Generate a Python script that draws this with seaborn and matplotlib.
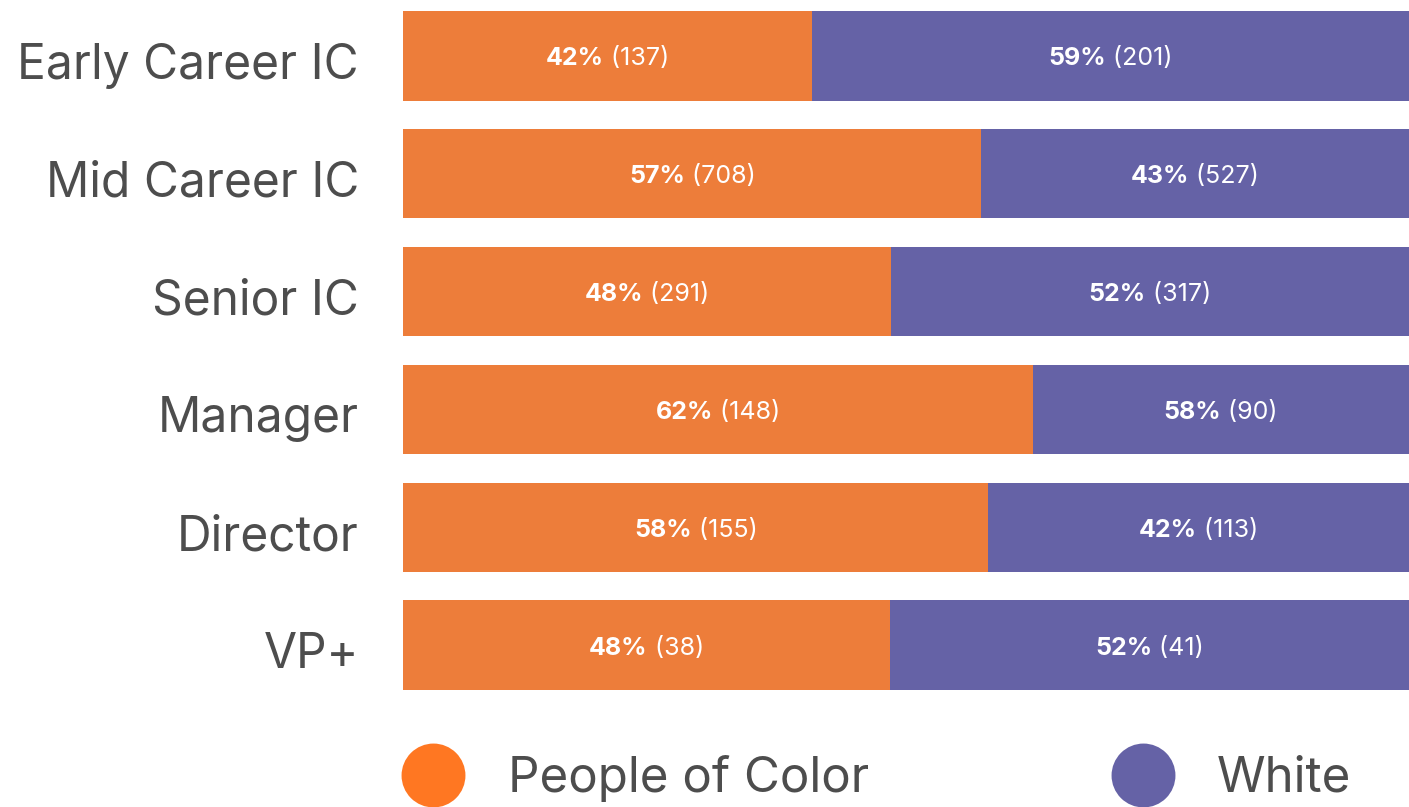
import matplotlib
matplotlib.use("Agg")
import matplotlib.pyplot as plt
from matplotlib.lines import Line2D
from matplotlib.transforms import ScaledTranslation
import seaborn as sns
import pandas as pd
import numpy as np

categories = ["Early Career IC", "Mid Career IC", "Senior IC", "Manager", "Director", "VP+"]
poc_share_pct = [40.7, 57.5, 48.5, 62.6, 58.2, 48.4]   # bar length of the orange segment
poc_counts = [137, 708, 291, 148, 155, 38]
white_counts = [201, 527, 317, 90, 113, 41]
poc_pct_labels = ["42%", "57%", "48%", "62%", "58%", "48%"]
white_pct_labels = ["59%", "43%", "52%", "58%", "42%", "52%"]
series_names = ["People of Color", "White"]

ORANGE = "#ED7D3A"
PURPLE = "#6562A6"
LEG_ORANGE = "#FF7722"
GREY = "#4D4D4D"
FONT = "Inter"

sns.set_theme(style="white")
plt.rcParams["font.family"] = [FONT, "DejaVu Sans"]

share = np.array(poc_share_pct) / 100.0
df = pd.DataFrame({"cat": categories, "total": np.ones(len(categories)), "poc": share})

fig = plt.figure(figsize=(14.09, 8.07), dpi=100, facecolor="white")
W, H = 1409, 807
ax = fig.add_axes([403 / W, 1 - 690 / H, 1 - 403 / W, (690 - 11) / H])

sns.barplot(data=df, y="cat", x="total", color=PURPLE, orient="h", width=0.76,
            saturation=1, ax=ax, edgecolor="none")
sns.barplot(data=df, y="cat", x="poc", color=ORANGE, orient="h", width=0.76,
            saturation=1, ax=ax, edgecolor="none")

ax.set_xlim(0, 1)
ax.set_ylim(5.38, -0.38)
ax.set_xlabel("")
ax.set_ylabel("")
ax.set_xticks([])
ax.set_yticks(range(len(categories)))
ax.set_yticklabels([])
ax.tick_params(axis="y", length=0)
for s in ax.spines.values():
    s.set_visible(False)
ax.set_facecolor("white")

# category labels (right-aligned, slightly below bar centre as in reference)
lab_tr = ax.get_yaxis_transform() + ScaledTranslation(-44 / 100, -10 / 100, fig.dpi_scale_trans)
for i, c in enumerate(categories):
    ax.text(0, i, c, transform=lab_tr, ha="right", va="center", fontsize=34.5,
            color=GREY, clip_on=False)

fig.canvas.draw()
renderer = fig.canvas.get_renderer()
LSIZE = 18


def two_part(xc, yc, bold, normal):
    t1 = ax.text(0, 0, bold, fontsize=LSIZE, fontweight="bold", color="white")
    t2 = ax.text(0, 0, " " + normal, fontsize=LSIZE, color="white")
    w1 = t1.get_window_extent(renderer).width
    w2 = t2.get_window_extent(renderer).width
    total = w1 + w2
    px, py = ax.transData.transform((xc, yc))
    py -= 3
    x0 = px - total / 2
    inv = ax.transData.inverted()
    a = inv.transform((x0, py))
    b = inv.transform((x0 + w1, py))
    t1.set_position(tuple(a))
    t2.set_position(tuple(b))
    for t in (t1, t2):
        t.set_ha("left")
        t.set_va("center")


for i in range(len(categories)):
    two_part(share[i] / 2, i, poc_pct_labels[i], f"({poc_counts[i]})")
    two_part((1 + share[i]) / 2, i, white_pct_labels[i], f"({white_counts[i]})")

# legend
leg_y = 1 - 775 / H
for cx, tx, col, name in [(433, 508, LEG_ORANGE, series_names[0]),
                          (1143, 1217, PURPLE, series_names[1])]:
    fig.add_artist(Line2D([cx / W], [leg_y], marker="o", markersize=46,
                          color=col, markeredgewidth=0, linestyle="none",
                          transform=fig.transFigure))
    fig.text(tx / W, 1 - 779 / H, name, fontsize=35.5, color=GREY, ha="left", va="center")

fig.savefig("out.png", dpi=100, facecolor="white")
